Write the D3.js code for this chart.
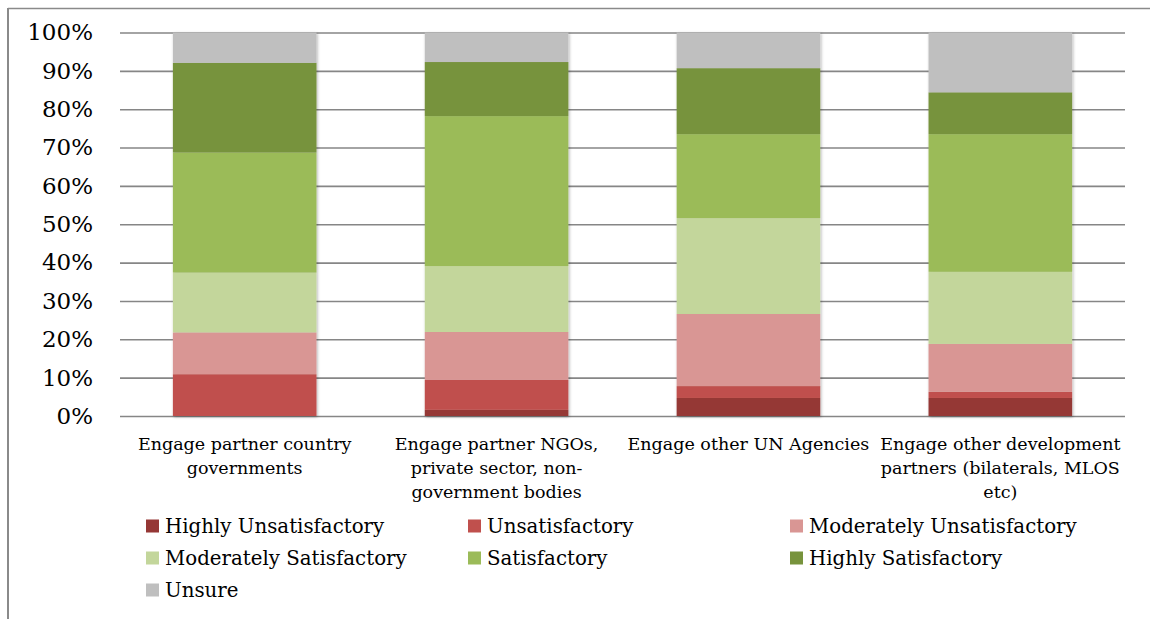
<!DOCTYPE html>
<html>
<head>
<meta charset="utf-8">
<script src="https://cdn.jsdelivr.net/npm/d3@7"></script>
<style>
  html, body { margin: 0; padding: 0; background: #fff; }
  svg { display: block; }
  text { font-family: "DejaVu Serif", "Liberation Serif", serif; fill: #000; }
</style>
</head>
<body>
<svg id="chart" width="1150" height="619"></svg>
<script>
// Survey categories and the wrapped lines of their axis labels
const categories = [
  "Engage partner country governments",
  "Engage partner NGOs, private sector, non-government bodies",
  "Engage other UN Agencies",
  "Engage other development partners (bilaterals, MLOS etc)"
];
const categoryLines = [
  ["Engage partner country", "governments"],
  ["Engage partner NGOs,", "private sector, non-", "government bodies"],
  ["Engage other UN Agencies"],
  ["Engage other development", "partners (bilaterals, MLOS", "etc)"]
];

// Share of responses (%) per rating, one value per category
const highlyUnsatisfactory     = [0.0, 1.6, 4.7, 4.7];
const unsatisfactory           = [10.9, 7.8, 3.1, 1.6];
const moderatelyUnsatisfactory = [10.9, 12.5, 18.8, 12.5];
const moderatelySatisfactory   = [15.6, 17.2, 25.0, 18.8];
const satisfactory             = [31.3, 39.1, 21.9, 35.9];
const highlySatisfactory       = [23.4, 14.1, 17.2, 10.9];
const unsure                   = [7.9, 7.7, 9.3, 15.6];

const seriesNames = [
  "Highly Unsatisfactory", "Unsatisfactory", "Moderately Unsatisfactory",
  "Moderately Satisfactory", "Satisfactory", "Highly Satisfactory", "Unsure"
];
const seriesValues = [
  highlyUnsatisfactory, unsatisfactory, moderatelyUnsatisfactory,
  moderatelySatisfactory, satisfactory, highlySatisfactory, unsure
];
const seriesColors = [
  "#953735", "#C0504D", "#D99694", "#C3D69B", "#9BBB59", "#77933C", "#BFBFBF"
];

const yTicks = [0, 10, 20, 30, 40, 50, 60, 70, 80, 90, 100];

// Rows for the stack layout
const rows = categories.map((c, i) => {
  const r = { category: c };
  seriesNames.forEach((s, k) => { r[s] = seriesValues[k][i]; });
  return r;
});

const svg = d3.select("#chart");

// Outer frame (top and left edges visible)
svg.append("line").attr("x1", 8).attr("x2", 1150).attr("y1", 8.5).attr("y2", 8.5)
  .attr("stroke", "#8a8a8a").attr("stroke-width", 1.5);
svg.append("line").attr("x1", 8).attr("x2", 8).attr("y1", 8).attr("y2", 619)
  .attr("stroke", "#8a8a8a").attr("stroke-width", 2);

const x = d3.scaleBand()
  .domain(categories)
  .range([120, 1125])
  .paddingInner(0.43)
  .paddingOuter(0.21);

const y = d3.scaleLinear().domain([0, 100]).range([416, 32.5]);

// Soft drop shadow under the bars
const defs = svg.append("defs");
const f = defs.append("filter").attr("id", "barShadow")
  .attr("x", "-10%").attr("y", "-10%").attr("width", "120%").attr("height", "120%");
f.append("feDropShadow").attr("dx", 1).attr("dy", 1).attr("stdDeviation", 1.6)
  .attr("flood-color", "#000").attr("flood-opacity", 0.3);

// Horizontal gridlines with percentage labels
const yAxis = d3.axisLeft(y)
  .tickValues(yTicks)
  .tickSize(-(1125 - 120))
  .tickPadding(27)
  .tickFormat(d => d + "%");

const gy = svg.append("g").attr("transform", "translate(120,0)").call(yAxis);
gy.select(".domain").remove();
gy.selectAll(".tick line").attr("stroke", "#868686").attr("stroke-width", 1.6);
gy.selectAll(".tick text")
  .attr("x", -27)
  .style("font-size", "23px")
  .style("font-family", "'DejaVu Serif', serif")
  .attr("fill", "#000");

// Stacked bars
const stack = d3.stack().keys(seriesNames);
const layers = stack(rows);

const gBars = svg.append("g").attr("filter", "url(#barShadow)");
gBars.selectAll("g.layer")
  .data(layers)
  .join("g")
  .attr("class", "layer")
  .attr("fill", (d, i) => seriesColors[i])
  .selectAll("rect")
  .data(d => d)
  .join("rect")
  .attr("x", d => x(d.data.category))
  .attr("width", x.bandwidth())
  .attr("y", d => y(d[1]))
  .attr("height", d => Math.max(0, y(d[0]) - y(d[1])));

// Category labels, centred under each bar
const gx = svg.append("g");
categories.forEach((c, i) => {
  const cx = x(c) + x.bandwidth() / 2;
  const t = gx.append("text")
    .attr("text-anchor", "middle")
    .style("font-size", "17.5px");
  categoryLines[i].forEach((line, j) => {
    t.append("tspan").attr("x", cx).attr("y", 450 + j * 24).text(line);
  });
});

// Legend: three columns, wrapping into rows
const legendCols = [146, 468, 790];
const legendRows = [526, 558, 590];
const legend = svg.append("g");
seriesNames.forEach((name, i) => {
  const cx = legendCols[i % 3];
  const cy = legendRows[Math.floor(i / 3)];
  legend.append("rect")
    .attr("x", cx).attr("y", cy - 6.5)
    .attr("width", 13).attr("height", 13)
    .attr("fill", seriesColors[i]);
  legend.append("text")
    .attr("x", cx + 19).attr("y", cy)
    .attr("dy", "0.35em")
    .style("font-size", "19.8px")
    .text(name);
});
</script>
</body>
</html>
